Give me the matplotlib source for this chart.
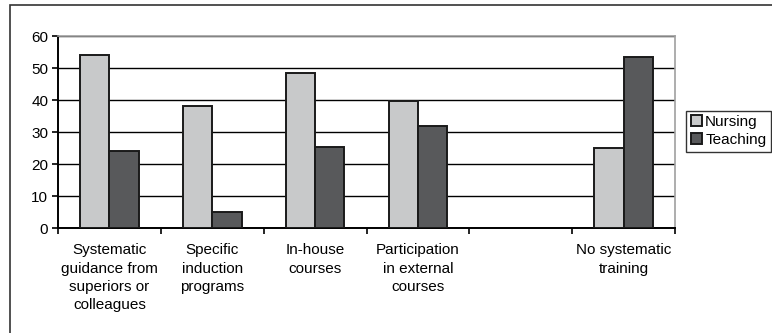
import numpy as np
import matplotlib.pyplot as plt
from matplotlib.patches import Rectangle

plt.rcParams['font.family'] = ['Liberation Sans', 'DejaVu Sans']

categories = [
    "Systematic\nguidance from\nsuperiors or\ncolleagues",
    "Specific\ninduction\nprograms",
    "In-house\ncourses",
    "Participation\nin external\ncourses",
    "",
    "No systematic\ntraining",
]
nursing = [54, 38, 48.3, 39.6, 0, 25]
teaching = [24, 5, 25.2, 32, 0, 53.5]


def main():
    fig = plt.figure(figsize=(7.72, 3.33), dpi=100)
    ax = fig.add_axes([58 / 772, 1 - 228 / 333, 617 / 772, 192 / 333])

    x = np.arange(len(categories))
    w = 0.285
    has = [n > 0 or t > 0 for n, t in zip(nursing, teaching)]
    xs = x[has]
    ax.bar(xs - w / 2, np.array(nursing)[has], w, color="#c8c9ca",
           edgecolor="#1a1a1a", linewidth=1.4, label="Nursing", zorder=3)
    ax.bar(xs + w / 2, np.array(teaching)[has], w, color="#58595b",
           edgecolor="#1a1a1a", linewidth=1.4, label="Teaching", zorder=3)

    ax.set_xlim(-0.5, len(categories) - 0.5)
    ax.set_ylim(0, 60)
    ax.set_yticks(range(0, 61, 10))
    ax.yaxis.grid(True, color="black", linewidth=1.0, zorder=0)
    ax.set_axisbelow(True)

    ax.set_xticks(x, categories, fontsize=11, linespacing=1.4)
    ax.set_xticks(np.arange(-0.5, len(categories)), minor=True)
    ax.tick_params(axis="x", which="major", length=0, pad=11)
    ax.tick_params(axis="x", which="minor", length=4, width=1.2, direction="out")
    ax.tick_params(axis="y", length=4, width=1.2, labelsize=11, pad=3)

    for side in ["left", "bottom"]:
        ax.spines[side].set_color("black")
        ax.spines[side].set_linewidth(1.4)
    for side in ["top", "right"]:
        ax.spines[side].set_color("#a0a0a0")
        ax.spines[side].set_linewidth(1.2)

    leg = ax.legend(loc="center left", bbox_to_anchor=(1.018, 0.505),
                    fontsize=11, frameon=True, fancybox=False,
                    handlelength=0.75, handleheight=0.75, handletextpad=0.2,
                    borderpad=0.3, labelspacing=0.25, borderaxespad=0)
    leg.get_frame().set_edgecolor("black")
    leg.get_frame().set_linewidth(1.0)

    fig.patches.append(Rectangle((10 / 772, -0.2), 1.0, 1 - 5 / 333 + 0.2,
                                 transform=fig.transFigure, fill=False,
                                 edgecolor="#333333", linewidth=1.2))

    fig.savefig("out.png", dpi=100)


if __name__ == "__main__":
    main()
